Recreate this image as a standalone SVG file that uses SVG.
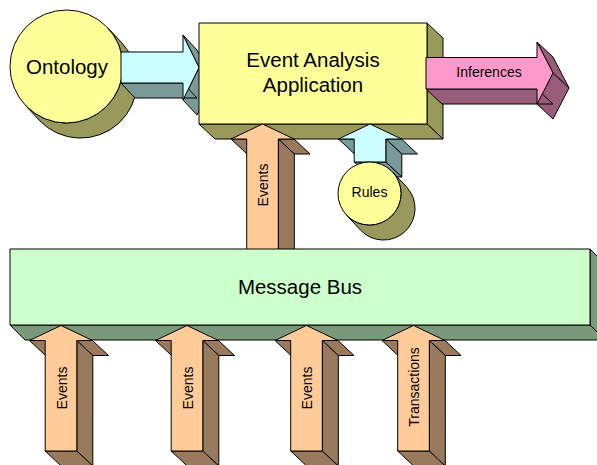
<svg xmlns="http://www.w3.org/2000/svg" width="597" height="465" viewBox="0 0 597 465">
<style>
.ln{stroke:#000;stroke-width:1;stroke-linejoin:round}
.yf{fill:#FFFF99}.ys{fill:#99995C}
.cf{fill:#CCFFFF}.cs{fill:#7A9999}
.pf{fill:#FF99CC}.ps{fill:#995C7A}
.of{fill:#FFCC99}.os{fill:#997A5C}
.gf{fill:#CCFFCC}.gs{fill:#7A997A}
.t{font-family:"Liberation Sans",Arial,sans-serif;fill:#000;text-anchor:middle}
.big{font-size:20.5px}
.sm{font-size:14px}
</style>
<g id="ontology">
  <path class="ln ys" d="M107.9,27.9 L121.9,42.9 A56.5,56.5 0 0 1 39.1,120.1 L25.1,105.1 A56.5,56.5 0 0 0 107.9,27.9 Z"/>
  <circle class="ln yf" cx="66.5" cy="66.5" r="56.5"/>
  <text class="t big" x="67" y="73.5">Ontology</text>
</g>
<g id="connectors">
  <g id="arrow-ontology">
    <polygon class="ln cs" points="183,35 199,67.5 213,82.5 197,50"/>
    <polygon class="ln cs" points="199,67.5 183,100 197,115 213,82.5"/>
    <polygon class="ln cs" points="121,83 183,83 197,98 135,98"/>
    <polygon class="ln cf" points="121,52 183,52 183,35 199,67.5 183,100 183,83 121,83"/>
  </g>
</g>
<g id="app">
  <polygon class="ln ys" points="427,23 443,38 443,139 427,124"/>
  <polygon class="ln ys" points="199,124 427,124 443,139 215,139"/>
  <rect class="ln yf" x="199" y="23" width="228" height="101"/>
  <text class="t big" x="313" y="66.5">Event Analysis</text>
  <text class="t big" x="313" y="91.5">Application</text>
</g>
<g id="connectors2">
  <g id="arrow-inferences">
    <polygon class="ln ps" points="537,42 553,73 569,88 553,57"/>
    <polygon class="ln ps" points="553,73 537,104 553,119 569,88"/>
    <polygon class="ln ps" points="426,89 537,89 553,104 442,104"/>
    <polygon class="ln pf" points="426,57.5 537,57.5 537,42 553,73 537,104 537,89 426,89"/>
    <text class="t sm" x="489" y="77">Inferences</text>
  </g>
  <g id="arrow-events-app" transform="translate(262.5,0)">
    <polygon class="ln os" points="15.8,139 31.5,139 47.5,154 31.8,154"/>
    <polygon class="ln os" points="15.8,139 31.8,154 31.8,270 15.8,255"/>
    <polygon class="ln os" points="-31.5,139 -15.8,139 0.2,154 -15.5,154"/>
    <polygon class="ln of" points="0,124 31.5,139 15.8,139 15.8,255 -15.8,255 -15.8,139 -31.5,139"/>
    <text class="t sm" transform="translate(5.5,185) rotate(-90)">Events</text>
  </g>
  <g id="arrow-rules" transform="translate(370,0)">
    <polygon class="ln cs" points="15.8,139 31.5,139 47.5,154 31.8,154"/>
    <polygon class="ln cs" points="15.8,139 31.8,154 31.8,177 15.8,162"/>
    <polygon class="ln cs" points="-15.8,162 15.8,162 31.8,177 0.2,177"/>
    <polygon class="ln cs" points="-31.5,139 -15.8,139 0.2,154 -15.5,154"/>
    <polygon class="ln cf" points="0,124 31.5,139 15.8,139 15.8,162 -15.8,162 -15.8,139 -31.5,139"/>
  </g>
</g>
<g id="rules">
  <path class="ln ys" d="M392.6,172 L406.6,187 A31.5,31.5 0 0 1 360.4,230 L346.4,215 A31.5,31.5 0 0 0 392.6,172 Z"/>
  <circle class="ln yf" cx="369.5" cy="193.5" r="31.5"/>
  <text class="t sm" x="369.5" y="197">Rules</text>
</g>
<g id="bus">
  <polygon class="ln gs" points="590,249 605,264 605,340 590,325"/>
  <polygon class="ln gs" points="10,325 590,325 605,340 25,340"/>
  <rect class="ln gf" x="10" y="249" width="580" height="76"/>
  <text class="t big" x="300" y="294">Message Bus</text>
</g>
<g id="connectors3">
  <g id="arrow-events-1" transform="translate(61,0)">
    <polygon class="ln os" points="15.8,340.5 31.5,340.5 47.5,355.5 31.8,355.5"/>
    <polygon class="ln os" points="15.8,340.5 31.8,355.5 31.8,466 15.8,451"/>
    <polygon class="ln os" points="-15.8,451 15.8,451 31.8,466 0.2,466"/>
    <polygon class="ln os" points="-31.5,340.5 -15.8,340.5 0.2,355.5 -15.5,355.5"/>
    <polygon class="ln of" points="0,325.5 31.5,340.5 15.8,340.5 15.8,451 -15.8,451 -15.8,340.5 -31.5,340.5"/>
    <text class="t sm" transform="translate(5.5,388) rotate(-90)">Events</text>
  </g>
  <g id="arrow-events-2" transform="translate(187,0)">
    <polygon class="ln os" points="15.8,340.5 31.5,340.5 47.5,355.5 31.8,355.5"/>
    <polygon class="ln os" points="15.8,340.5 31.8,355.5 31.8,466 15.8,451"/>
    <polygon class="ln os" points="-15.8,451 15.8,451 31.8,466 0.2,466"/>
    <polygon class="ln os" points="-31.5,340.5 -15.8,340.5 0.2,355.5 -15.5,355.5"/>
    <polygon class="ln of" points="0,325.5 31.5,340.5 15.8,340.5 15.8,451 -15.8,451 -15.8,340.5 -31.5,340.5"/>
    <text class="t sm" transform="translate(5.5,388) rotate(-90)">Events</text>
  </g>
  <g id="arrow-events-3" transform="translate(306.5,0)">
    <polygon class="ln os" points="15.8,340.5 31.5,340.5 47.5,355.5 31.8,355.5"/>
    <polygon class="ln os" points="15.8,340.5 31.8,355.5 31.8,466 15.8,451"/>
    <polygon class="ln os" points="-15.8,451 15.8,451 31.8,466 0.2,466"/>
    <polygon class="ln os" points="-31.5,340.5 -15.8,340.5 0.2,355.5 -15.5,355.5"/>
    <polygon class="ln of" points="0,325.5 31.5,340.5 15.8,340.5 15.8,451 -15.8,451 -15.8,340.5 -31.5,340.5"/>
    <text class="t sm" transform="translate(5.5,388) rotate(-90)">Events</text>
  </g>
  <g id="arrow-transactions" transform="translate(413.5,0)">
    <polygon class="ln os" points="15.8,340.5 31.5,340.5 47.5,355.5 31.8,355.5"/>
    <polygon class="ln os" points="15.8,340.5 31.8,355.5 31.8,466 15.8,451"/>
    <polygon class="ln os" points="-15.8,451 15.8,451 31.8,466 0.2,466"/>
    <polygon class="ln os" points="-31.5,340.5 -15.8,340.5 0.2,355.5 -15.5,355.5"/>
    <polygon class="ln of" points="0,325.5 31.5,340.5 15.8,340.5 15.8,451 -15.8,451 -15.8,340.5 -31.5,340.5"/>
    <text class="t sm" transform="translate(5.5,387) rotate(-90)">Transactions</text>
  </g>
</g>
</svg>
